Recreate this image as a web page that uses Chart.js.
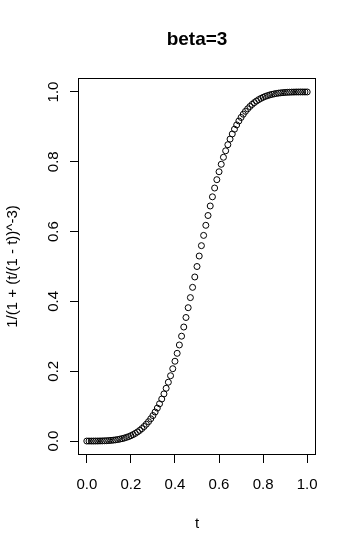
<!DOCTYPE html>
<html>
<head>
<meta charset="utf-8">
<script src="https://cdn.jsdelivr.net/npm/chart.js@4/dist/chart.umd.min.js"></script>
<style>
html,body{margin:0;padding:0;background:#fff;}
#c{display:block;}
</style>
</head>
<body>
<canvas id="c" width="357" height="553"></canvas>
<script>
// ---- data ----
const tValues = [0.00,0.01,0.02,0.03,0.04,0.05,0.06,0.07,0.08,0.09,
0.10,0.11,0.12,0.13,0.14,0.15,0.16,0.17,0.18,0.19,
0.20,0.21,0.22,0.23,0.24,0.25,0.26,0.27,0.28,0.29,
0.30,0.31,0.32,0.33,0.34,0.35,0.36,0.37,0.38,0.39,
0.40,0.41,0.42,0.43,0.44,0.45,0.46,0.47,0.48,0.49,
0.50,0.51,0.52,0.53,0.54,0.55,0.56,0.57,0.58,0.59,
0.60,0.61,0.62,0.63,0.64,0.65,0.66,0.67,0.68,0.69,
0.70,0.71,0.72,0.73,0.74,0.75,0.76,0.77,0.78,0.79,
0.80,0.81,0.82,0.83,0.84,0.85,0.86,0.87,0.88,0.89,
0.90,0.91,0.92,0.93,0.94,0.95,0.96,0.97,0.98,0.99,1.00];
const yValues = [0,0,0,0,0.0001,0.0001,0.0003,0.0004,0.0007,0.0010,
0.0014,0.0019,0.0025,0.0033,0.0043,0.0055,0.0069,0.0085,0.0105,0.0127,
0.0154,0.0184,0.0219,0.0260,0.0305,0.0357,0.0416,0.0482,0.0555,0.0638,
0.0730,0.0831,0.0944,0.1067,0.1203,0.1350,0.1511,0.1685,0.1871,0.2072,
0.2286,0.2513,0.2752,0.3004,0.3266,0.3539,0.3820,0.4109,0.4403,0.4700,
0.5000,0.5300,0.5597,0.5891,0.6180,0.6461,0.6734,0.6996,0.7248,0.7487,
0.7714,0.7928,0.8129,0.8315,0.8489,0.8650,0.8797,0.8933,0.9056,0.9169,
0.9270,0.9362,0.9445,0.9518,0.9584,0.9643,0.9695,0.9740,0.9781,0.9816,
0.9846,0.9873,0.9895,0.9915,0.9931,0.9945,0.9957,0.9967,0.9975,0.9981,
0.9986,0.9990,0.9993,0.9996,0.9997,0.9999,0.9999,1.0000,1.0000,1.0000,1.0000];
const xTicks = [0,0.2,0.4,0.6,0.8,1.0];
const yTicks = [0,0.2,0.4,0.6,0.8,1.0];
const xTickLabels = ["0.0","0.2","0.4","0.6","0.8","1.0"];
const yTickLabels = ["0.0","0.2","0.4","0.6","0.8","1.0"];
const titleText = "beta=3";
const xTitle = "t";
const yTitle = "1/(1 + (t/(1 - t))^-3)";

const FONT = '"Liberation Sans", Arial, sans-serif';

const points = tValues.map((t, i) => ({x: t, y: yValues[i]}));

const rPlot = {
  id: 'rPlot',
  afterDraw(chart) {
    const ctx = chart.ctx;
    const a = chart.chartArea;
    const xs = chart.scales.x, ys = chart.scales.y;
    ctx.save();
    // box
    ctx.strokeStyle = '#000';
    ctx.lineWidth = 1;
    ctx.strokeRect(Math.round(a.left) + 0.5, Math.round(a.top) + 0.5,
                   Math.round(a.right - a.left) - 1, Math.round(a.bottom - a.top) - 1);
    ctx.fillStyle = '#000';
    // tick labels
    ctx.font = '15px ' + FONT;
    ctx.textAlign = 'center';
    ctx.textBaseline = 'middle';
    xTicks.forEach((v, i) => {
      ctx.fillText(xTickLabels[i], xs.getPixelForValue(v), 485);
    });
    yTicks.forEach((v, i) => {
      ctx.save();
      ctx.translate(54, ys.getPixelForValue(v));
      ctx.rotate(-Math.PI / 2);
      ctx.fillText(yTickLabels[i], 0, 0);
      ctx.restore();
    });
    // axis titles
    const cx = (a.left + a.right) / 2, cy = (a.top + a.bottom) / 2;
    ctx.fillText(xTitle, cx, 524);
    ctx.save();
    ctx.translate(13, cy);
    ctx.rotate(-Math.PI / 2);
    ctx.fillText(yTitle, 0, 0);
    ctx.restore();
    // main title
    ctx.font = 'bold 19px ' + FONT;
    ctx.fillText(titleText, cx, 40);
    ctx.restore();
  }
};

new Chart(document.getElementById('c'), {
  type: 'scatter',
  data: {
    datasets: [{
      data: points,
      pointStyle: 'circle',
      pointRadius: 3,
      pointBorderWidth: 1,
      pointBorderColor: '#000',
      pointBackgroundColor: 'rgba(0,0,0,0)',
      showLine: false
    }]
  },
  options: {
    responsive: false,
    animation: false,
    devicePixelRatio: 1,
    layout: {padding: {top: 78, right: 41, left: 0, bottom: 0}},
    plugins: {legend: {display: false}, tooltip: {enabled: false}, title: {display: false}},
    scales: {
      x: {
        type: 'linear', min: -0.04, max: 1.04,
        afterBuildTicks: s => { s.ticks = xTicks.map(v => ({value: v})); },
        afterFit: s => { s.height = 98; },
        grid: {display: true, drawOnChartArea: false, drawTicks: true, tickLength: 8, color: '#000', lineWidth: 1},
        border: {display: false},
        ticks: {display: false}
      },
      y: {
        type: 'linear', min: -0.04, max: 1.04,
        afterBuildTicks: s => { s.ticks = yTicks.map(v => ({value: v})); },
        afterFit: s => { s.width = 78; },
        grid: {display: true, drawOnChartArea: false, drawTicks: true, tickLength: 8, color: '#000', lineWidth: 1},
        border: {display: false},
        ticks: {display: false}
      }
    }
  },
  plugins: [rPlot]
});
</script>
</body>
</html>
